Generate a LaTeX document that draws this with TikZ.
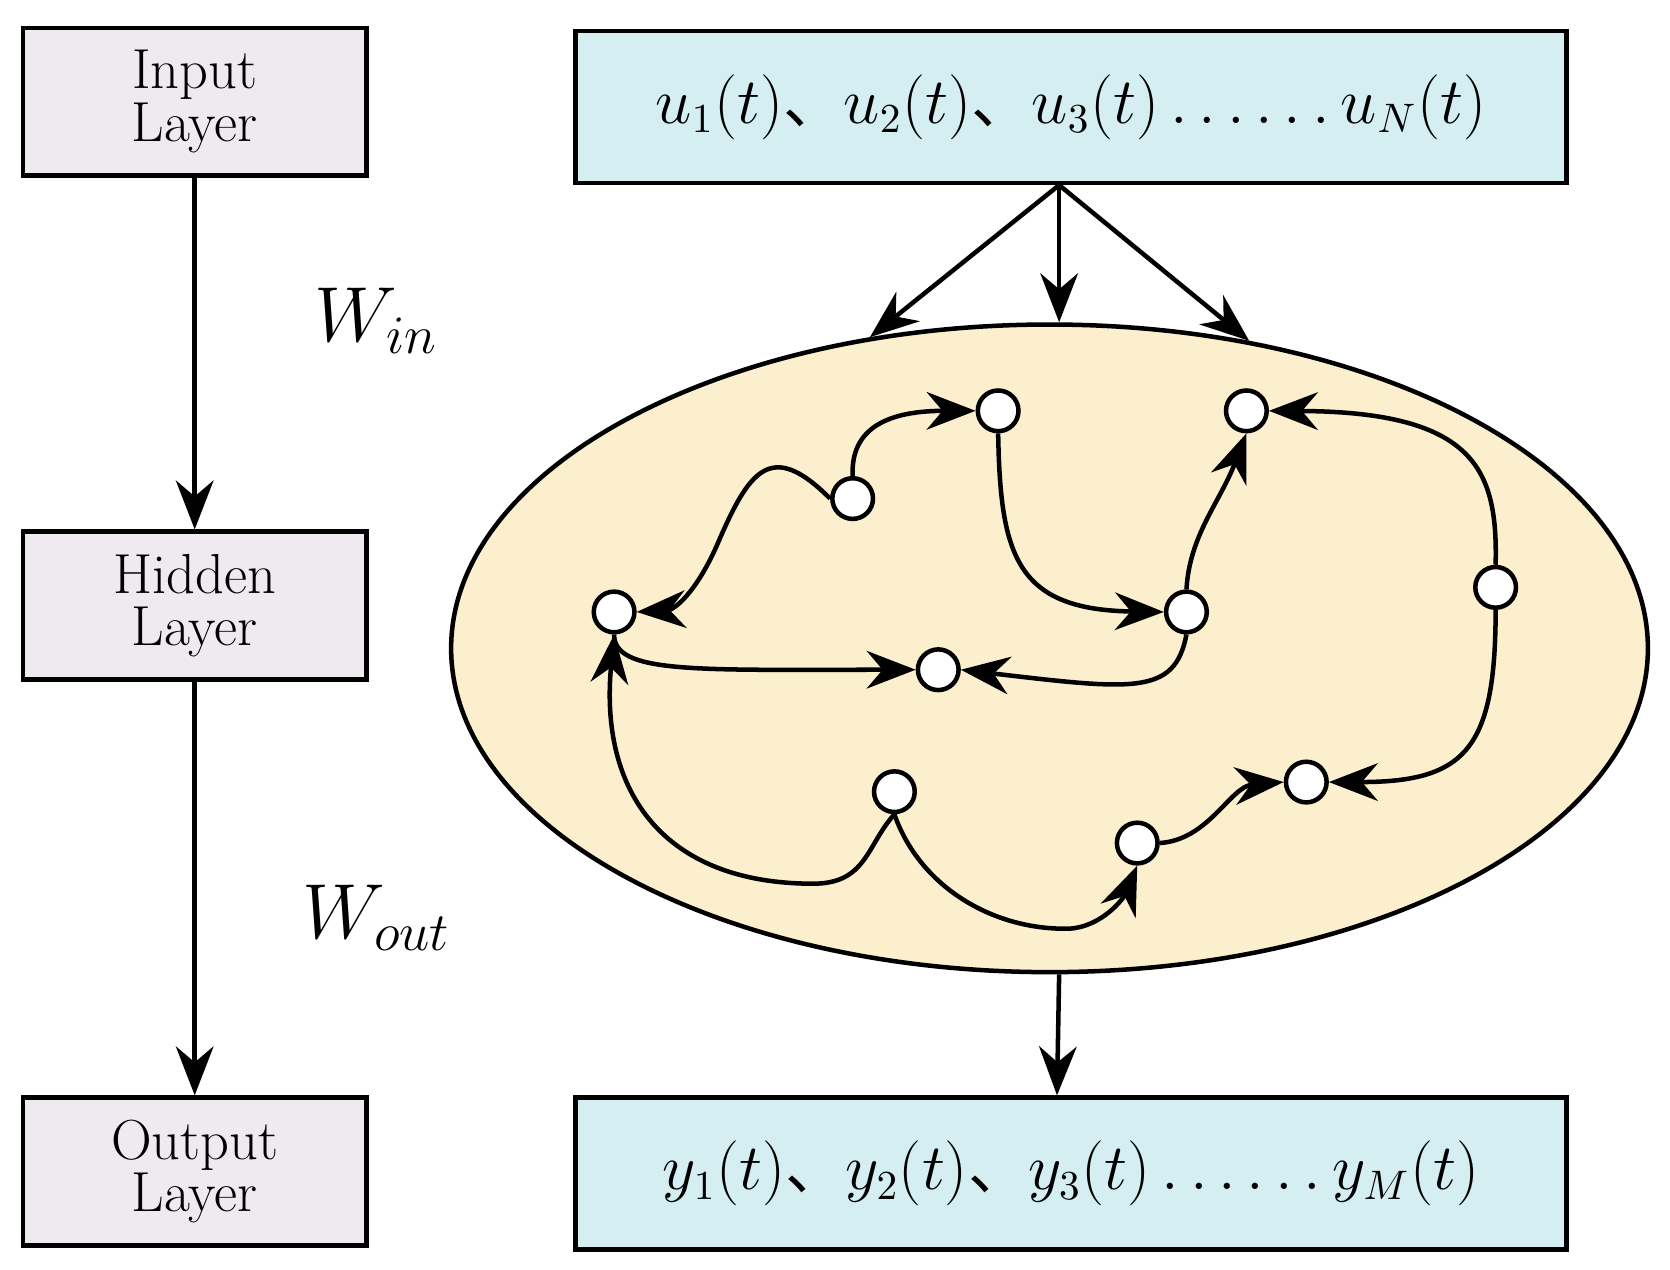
\documentclass[tikz,border=0pt]{standalone}
\usepackage{fontspec}
\newfontfamily\cjk{Noto Sans CJK SC}
\usetikzlibrary{positioning, arrows.meta, shapes}
\definecolor{layergray}{HTML}{EEEAF0}
\definecolor{signalblue}{HTML}{D5EEF2}
\definecolor{reservoir}{HTML}{FCEFCD}
\newcommand{\dun}{{\cjk 、}}

\begin{document}
\begin{tikzpicture}[x=0.01cm,y=-0.01cm,line width=1.2pt,
  >={Stealth[length=13pt,width=10pt]},
  layer/.style={draw, fill=layergray, minimum width=3.21cm, minimum height=1.38cm, align=center, font=\fontsize{15}{17}\selectfont, inner sep=0pt},
  signal/.style={draw, fill=signalblue, minimum width=9.26cm, minimum height=1.42cm, font=\fontsize{16}{18}\selectfont},
  neuron/.style={draw, circle, fill=white, minimum size=0.38cm, inner sep=0pt}]
  \useasboundingbox (0,0) rectangle (1561,1187);
  % left column
  \node[layer] (input) at (182,95) {Input\\[-3pt]Layer};
  \node[layer] (hidden) at (182,566) {Hidden\\[-3pt]Layer};
  \node[layer] (output) at (182,1095) {Output\\[-3pt]Layer};
  \draw[->] (input) -- (hidden);
  \draw[->] (hidden) -- (output);
  \node[font=\fontsize{20}{22}\selectfont] (win) at (352,300) {$W_{in}$};
  \node[font=\fontsize{20}{22}\selectfont] (wout) at (352,858) {$W_{out}$};
  % right column
  \node[signal] (u) at (1001,100) {$u_1(t)$\dun$u_2(t)$\dun$u_3(t)\ldots\ldots u_N(t)$};
  \node[signal] (y) at (1001,1097) {$y_1(t)$\dun$y_2(t)$\dun$y_3(t)\ldots\ldots y_M(t)$};
  \node[draw, ellipse, fill=reservoir, minimum width=11.18cm, minimum height=6.05cm] (res) at (981,606) {};
  \coordinate (tap) at (990,173);
  \draw[->] (tap) -- (res.north -| tap);
  \draw[->] (tap) -- (res.120);
  \draw[->] (tap) -- (res.57);
  \draw[->] (res.south -| 990,0) -- (y.north -| 988,0);
  % reservoir neurons
  \node[neuron] (n1) at (797,466) {};
  \node[neuron] (n2) at (933,384) {};
  \node[neuron] (n3) at (1165,384) {};
  \node[neuron] (n4) at (574,572) {};
  \node[neuron] (n5) at (1398,549) {};
  \node[neuron] (n6) at (1109,572) {};
  \node[neuron] (n7) at (877,626) {};
  \node[neuron] (n8) at (836,740) {};
  \node[neuron] (n9) at (1221,731) {};
  \node[neuron] (n10) at (1063,788) {};
  \draw[->] (n1.north) .. controls (795,400) and (830,384) .. (n2.west);
  \draw[->] (n1.west) .. controls (720,410) and (700,440) .. (670,510) .. controls (650,555) and (630,570) .. (n4.east);
  \draw[->] (n2.south) .. controls (935,520) and (950,570) .. (n6.west);
  \draw[->] (n6.north) .. controls (1112,500) and (1140,470) .. (n3.south);
  \draw[->] (n6.south) .. controls (1098,650) and (1060,645) .. (n7.east);
  \draw[->] (n4.south) .. controls (574,630) and (650,626) .. (n7.west);
  \draw[->] (n5.north) .. controls (1400,440) and (1380,385) .. (n3.east);
  \draw[->] (n5.south) .. controls (1398,700) and (1370,731) .. (n9.east);
  \draw[->] (n8.south) .. controls (810,790) and (810,826) .. (760,826) .. controls (620,826) and (560,740) .. (n4.south);
  \draw[->] (n8.south) .. controls (860,830) and (930,870) .. (1000,868) .. controls (1030,866) and (1050,840) .. (n10.south);
  \draw[->] (n10.east) .. controls (1130,785) and (1150,735) .. (n9.west);
\end{tikzpicture}
\end{document}
